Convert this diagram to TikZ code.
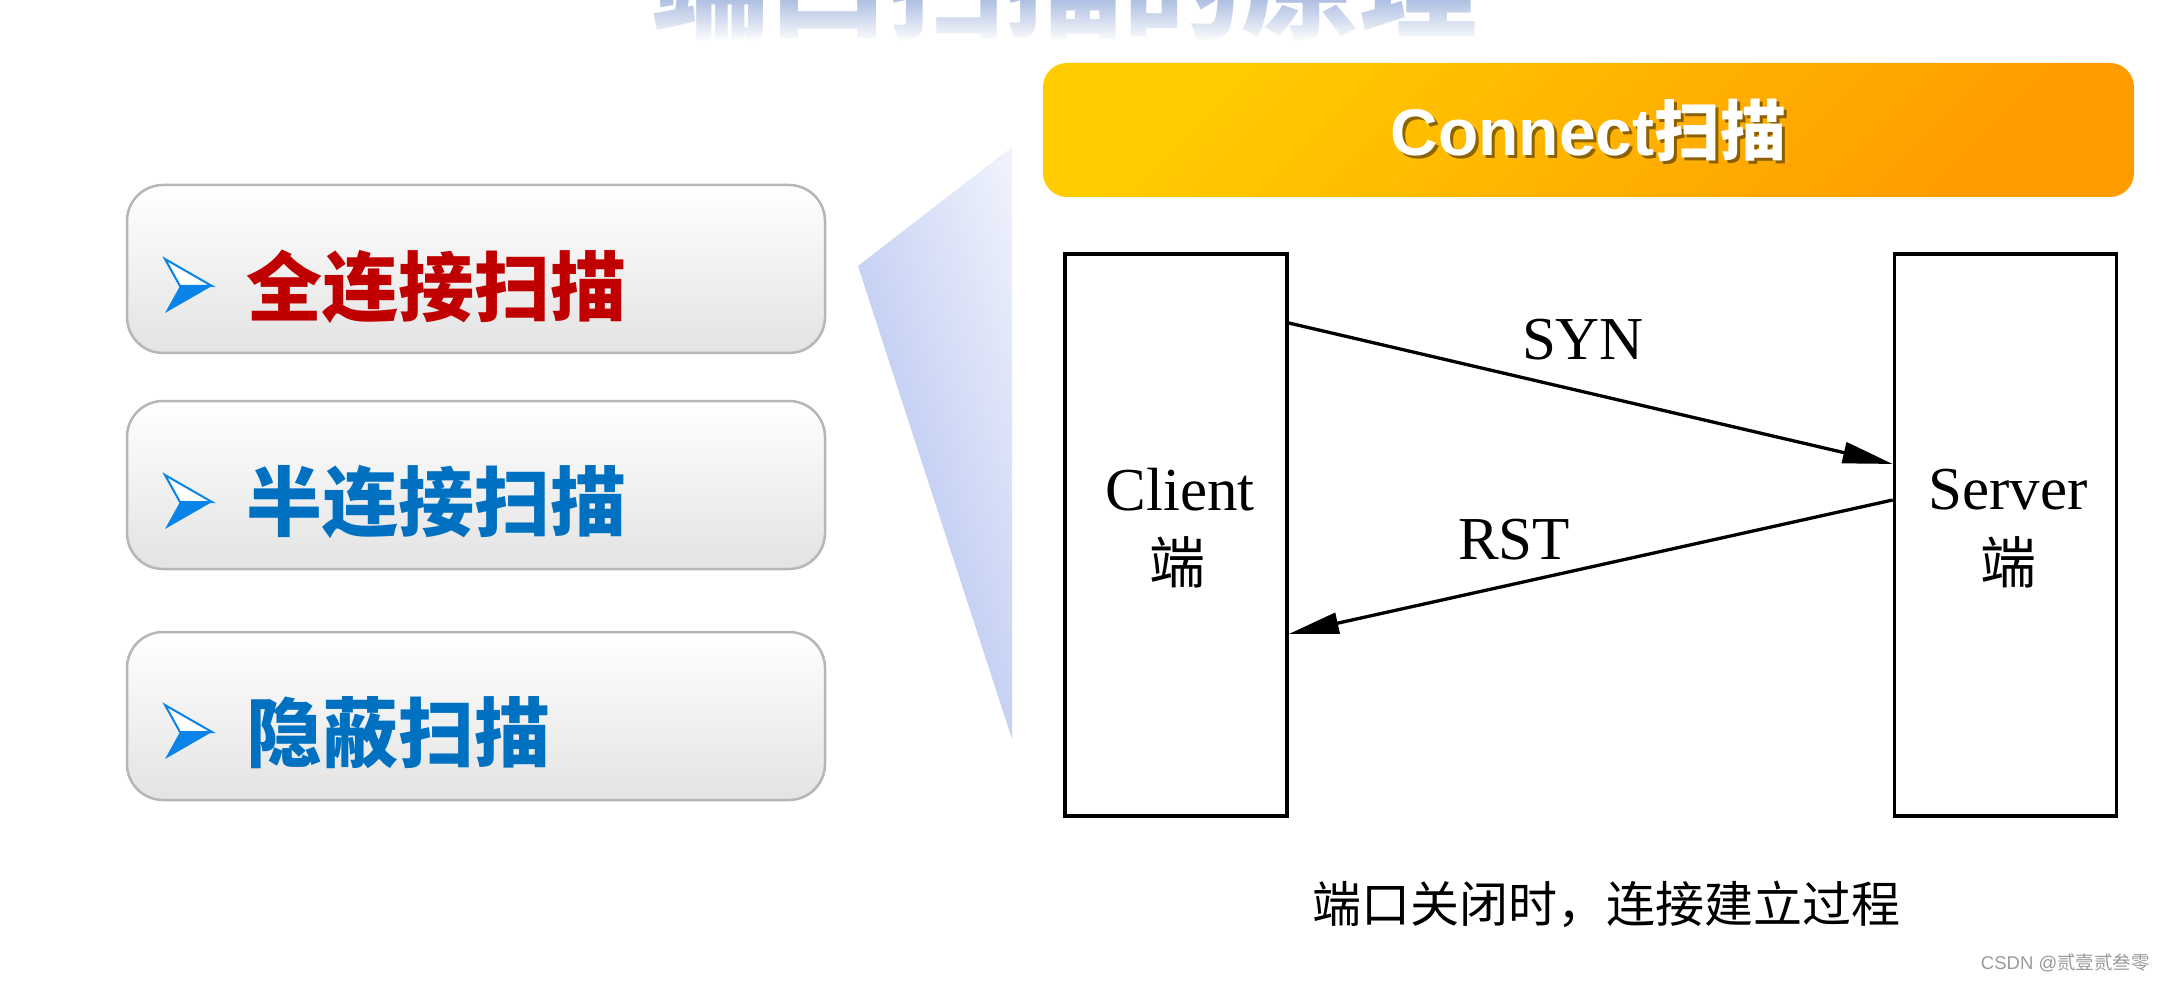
\documentclass[tikz,border=0pt]{standalone}
\usepackage{fontspec}
\setmainfont{Liberation Serif}
\newfontfamily\cjk{Noto Sans CJK SC}
\newfontfamily\arialf{Liberation Sans}
\usetikzlibrary{arrows.meta,fadings}
\tikzfading[name=fadedown, top color=transparent!100, bottom color=transparent!0]
\definecolor{redtxt}{HTML}{C00000}
\definecolor{bluetxt}{HTML}{0070C0}
\definecolor{arrowblue}{HTML}{0A84E8}
\definecolor{boxedge}{HTML}{B6B6B6}
\definecolor{boxbot}{HTML}{E3E3E3}
\definecolor{orangeA}{HTML}{FFCC00}
\definecolor{orangeB}{HTML}{FF9C00}
\definecolor{triblue}{HTML}{B4C2F0}
\definecolor{titleblue}{HTML}{AFC0E2}
\definecolor{shadowc}{HTML}{5A4000}
\definecolor{wmgray}{HTML}{9A9A9A}
\newcommand{\fs}[1]{\fontsize{#1pt}{#1pt}\selectfont}
\newcommand{\optarrow}[1]{%
  \fill[arrowblue] (180,#1) -- (212,#1) -- (165,#1+27) -- cycle;
  \draw[arrowblue, line width=2pt, fill=white, line join=miter] (165,#1-27) -- (212,#1) -- (180,#1) -- cycle;}
\begin{document}
\begin{tikzpicture}[x=1pt,y=-1pt,
  optbox/.style={draw=boxedge, line width=2.5pt, rounded corners=36pt, top color=white, bottom color=boxbot, minimum width=698pt, minimum height=168pt, inner sep=0pt},
  opttext/.style={font=\cjk\bfseries\fs{76}, anchor=west, inner sep=0pt},
  hostbox/.style={draw=black, line width=3.6pt, minimum width=222pt, minimum height=562pt, inner sep=0pt},
  msg/.style={-{Triangle[length=50pt,width=21pt]}, line width=3.3pt},
  lbl/.style={font=\fs{61}, inner sep=0pt},
  bantext/.style={font=\arialf\bfseries\fs{66}, inner sep=0pt}
]
\useasboundingbox (0,0) rectangle (2164,984);
\clip (0,0) rectangle (2164,984);
\fill[white] (0,0) rectangle (2164,984);

% faded title at the top edge
\node[font=\cjk\bfseries\fs{118}, text=titleblue, anchor=base west, inner sep=0pt] (title) at (651,30) {端口扫描的原理};
\fill[white, path fading=fadedown] (600,0) rectangle (1560,42);
\fill[white] (600,42) rectangle (1560,60);

% callout triangle
\begin{scope}
  \clip (858,266) -- (1012,147) -- (1012,739) -- cycle;
  \begin{scope}[transform canvas={rotate around={18:(858,266)}}]
    \shade[left color=triblue, right color=white] (778,-600) rectangle (1098,1100);
  \end{scope}
\end{scope}

% left option boxes
\node[optbox] (b1) at (476,269) {};
\node[optbox] (b2) at (476,485) {};
\node[optbox] (b3) at (476,716) {};
\optarrow{286}
\optarrow{502}
\optarrow{732}
\node[opttext, text=redtxt] (t1) at (246,287) {全连接扫描};
\node[opttext, text=bluetxt] (t2) at (246,502) {半连接扫描};
\node[opttext, text=bluetxt] (t3) at (246,733) {隐蔽扫描};

% banner
\node[rounded corners=24pt, minimum width=1091pt, minimum height=134pt, top color=orangeA, bottom color=orangeB, shading angle=45, inner sep=0pt] (banner) at (1588.5,130) {};
\node[bantext, text=shadowc, opacity=0.7] (bshadow) at ([shift={(3,3)}]banner.center) {Connect{\cjk\bfseries 扫描}};
\node[bantext, text=white] (btext) at (banner.center) {Connect{\cjk\bfseries 扫描}};

% client / server
\node[hostbox] (client) at (1176,535) {};
\node[hostbox] (server) at (2005.5,535) {};
\node[lbl] (clabel) at (1180,490) {Client};
\node[font=\cjk\fs{56}, inner sep=0pt] (cduan) at (1177,562) {端};
\node[lbl] (slabel) at (2008,490) {Server};
\node[font=\cjk\fs{56}, inner sep=0pt] (sduan) at (2008,562) {端};

\coordinate (ya) at (0,323);
\coordinate (yb) at (0,464);
\coordinate (yc) at (0,500);
\coordinate (yd) at (0,634);
\draw[msg] (client.east |- ya) -- (server.west |- yb);
\draw[msg] (server.west |- yc) -- (client.east |- yd);
\node[lbl] (syn) at (1583,340) {SYN};
\node[lbl] (rst) at (1514,540) {RST};

% caption and watermark
\node[font=\cjk\fs{49}, inner sep=0pt] (cap) at (1606,904) {端口关闭时，连接建立过程};
\node[font=\arialf\fs{18.5}, text=wmgray, anchor=east, inner sep=0pt] (wm) at (2150,963) {CSDN @{\cjk 贰壹贰叁零}};
\end{tikzpicture}
\end{document}
